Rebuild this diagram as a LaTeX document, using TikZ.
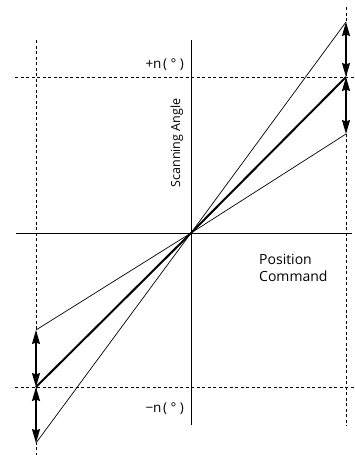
\documentclass[tikz,border=0pt]{standalone}
\usepackage{fontspec}
\setmainfont{Open Sans}
\usetikzlibrary{arrows.meta}
\begin{document}
\begin{tikzpicture}[x=1pt,y=-1pt,
  axis/.style={line width=0.9pt},
  guide/.style={line width=0.7pt,dash pattern=on 3pt off 2.5pt},
  thinline/.style={line width=0.7pt},
  thickline/.style={line width=2pt},
  dbl/.style={line width=1.4pt,{Stealth[length=14pt,width=8pt,inset=1.5pt]}-{Stealth[length=14pt,width=8pt,inset=1.5pt]}},
  lab/.style={inner sep=0pt}]
\useasboundingbox (0,0) rectangle (355,455);
% coordinates
\coordinate (O) at (191,233);
\coordinate (RT) at (346,22);
\coordinate (RM) at (346,77);
\coordinate (RB) at (346,134);
\coordinate (LT) at (36,330);
\coordinate (LM) at (36,387);
\coordinate (LB) at (36,443);
\coordinate (vt) at (191,40);
\coordinate (vb) at (191,425);
\coordinate (hl) at (16,233);
\coordinate (hr) at (352,233);
\coordinate (ltop) at (36,40);
\coordinate (lbot) at (36,455);
\coordinate (rtop) at (346,7);
\coordinate (rbot) at (346,426);
\coordinate (tl) at (15,77);
\coordinate (tr) at (355,77);
\coordinate (bl) at (15,387);
\coordinate (br) at (355,387);
% guides
\draw[guide] (ltop) -- (lbot);
\draw[guide] (rtop) -- (rbot);
\draw[guide] (tl) -- (tr);
\draw[guide] (bl) -- (br);
% axes
\draw[axis] (vt) -- (vb);
\draw[axis] (hl) -- (hr);
% lines
\draw[thinline] (LB) -- (O) -- (RT);
\draw[thinline] (LT) -- (O) -- (RB);
\draw[thickline] (LM) -- (O) -- (RM);
% arrows
\draw[dbl] (RM) -- (RT);
\draw[dbl] (RM) -- (RB);
\draw[dbl] (LM) -- (LT);
\draw[dbl] (LM) -- (LB);
% labels
\node[lab,anchor=east,font=\fontsize{13.5}{16}\selectfont] (pn) at (184,65) {+n\hspace{1.5pt}(\hspace{3.5pt}°\hspace{3.5pt})};
\node[lab,anchor=east,font=\fontsize{13.5}{16}\selectfont] (mn) at (184,409) {−n\hspace{1.5pt}(\hspace{3.5pt}°\hspace{3.5pt})};
\node[lab,rotate=90,font=\fontsize{12.5}{15}\selectfont] (sa) at (177,143) {Scanning Angle};
\node[lab,align=left,anchor=west,font=\fontsize{14}{17}\selectfont] (pc) at (259,268) {Position\\Command};
\end{tikzpicture}
\end{document}
